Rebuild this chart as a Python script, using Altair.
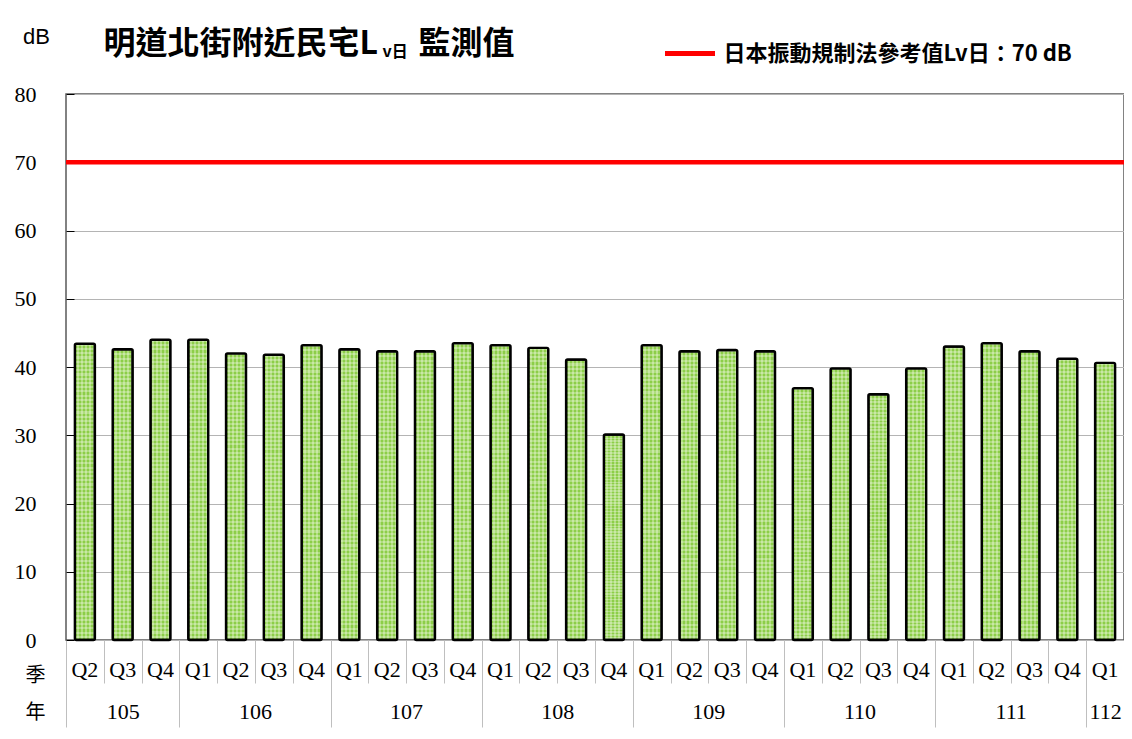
import json
import altair as alt
import pandas as pd

# ---------------- data ----------------
years = ["105", "106", "107", "108", "109", "110", "111", "112"]
quarters = [
    ["Q2", "Q3", "Q4"],
    ["Q1", "Q2", "Q3", "Q4"],
    ["Q1", "Q2", "Q3", "Q4"],
    ["Q1", "Q2", "Q3", "Q4"],
    ["Q1", "Q2", "Q3", "Q4"],
    ["Q1", "Q2", "Q3", "Q4"],
    ["Q1", "Q2", "Q3", "Q4"],
    ["Q1"],
]
values = [43.4, 42.6, 44.0,
          44.0, 42.0, 41.8, 43.2,
          42.6, 42.3, 42.3, 43.5,
          43.2, 42.8, 41.1, 30.1,
          43.2, 42.3, 42.5, 42.3,
          36.9, 39.8, 36.0, 39.8,
          43.0, 43.5, 42.3, 41.2,
          40.6]
y_ticks = [0, 10, 20, 30, 40, 50, 60, 70, 80]
limit_value = 70
limit_label = "日本振動規制法參考值Lv日：70 dB"
title_main = "明道北街附近民宅L"
title_sub = "v日"
title_tail = "監測值"
y_unit = "dB"
row_quarter = "季"
row_year = "年"

# ---------------- tables built from the lists ----------------
keys = [f"{y}-{q}" for y, qs in zip(years, quarters) for q in qs]
df = pd.DataFrame({"key": keys, "value": values})
n = len(keys)
bounds = [0]
for qs in quarters:
    bounds.append(bounds[-1] + len(qs))
centers = [(a + b) / 2 for a, b in zip(bounds[:-1], bounds[1:])]
qsep_df = pd.DataFrame({"b": list(range(n + 1))})
ysep_df = pd.DataFrame({"b": bounds})
ycen_df = pd.DataFrame({"c": centers, "year": years})
lim_df = pd.DataFrame({"label": [limit_label], "value": [limit_value]})
ytick_df = pd.DataFrame({"value": y_ticks})

W, H = 1058, 546
SERIF = "Liberation Serif"
CJK = "Noto Sans CJK TC"
SEP = "#BFBFBF"

# pattern-like fills (style only)
def stripes(n_per, c1, c2, horizontal):
    stops = []
    for i in range(n_per):
        a = i / n_per
        m = (i + 0.5) / n_per
        b = (i + 1) / n_per
        stops += [{"offset": a, "color": c1}, {"offset": m, "color": c1},
                  {"offset": m, "color": c2}, {"offset": b, "color": c2}]
    g = {"gradient": "linear", "stops": stops}
    if horizontal:
        g.update({"x1": 0, "x2": 1, "y1": 0, "y2": 0})
    else:
        g.update({"x1": 0, "x2": 0, "y1": 0, "y2": 1})
    return g

fill_x = stripes(5, "#8CCE48", "#B2DE80", True)
fill_y = stripes(70, "rgba(255,255,255,0.3)", "rgba(255,255,255,0)", False)

band = alt.Scale(domain=keys, paddingInner=0.47, paddingOuter=0.235)
lin = alt.Scale(domain=[0, n], nice=False, zero=False)

def title_axis(**kw):
    base = dict(orient="bottom", labels=False, ticks=False, domain=False, grid=False,
                titleAngle=0, titleColor="black", titleBaseline="middle",
                titleAlign="left")
    base.update(kw)
    return alt.Axis(**base)

y_enc = alt.Y(
    "value:Q",
    scale=alt.Scale(domain=[0, 80], nice=False),
    axis=alt.Axis(values=y_ticks, grid=True, gridColor="#B4B4B4", gridWidth=1,
                  domain=False, ticks=False, labelFont=SERIF, labelFontSize=22,
                  labelColor="black", labelPadding=30,
                  title=y_unit, titleFont="Liberation Sans", titleFontSize=22,
                  titleFontWeight="normal", titleColor="black", titleAngle=0,
                  titleAlign="center", titleBaseline="middle", titleX=-30, titleY=-58),
)

bars_a = alt.Chart(df).mark_bar(fill=fill_x).encode(
    x=alt.X("key:N", scale=band,
            axis=alt.Axis(orient="bottom", labelExpr="split(datum.value, '-')[1]",
                          labelAngle=0, labelFont=SERIF, labelFontSize=22,
                          labelColor="black", labelPadding=19, ticks=False,
                          domain=False, grid=False,
                          title=row_quarter, titleFont=CJK, titleFontSize=20,
                          titleFontWeight="normal", titleColor="black",
                          titleAngle=0, titleAlign="center", titleBaseline="middle",
                          titleX=-31, titleY=35)),
    y=y_enc,
)

bars_b = alt.Chart(df).mark_bar(fill=fill_y, stroke="black", strokeWidth=2.4,
                                cornerRadius=1.5).encode(
    x=alt.X("key:N", scale=band, axis=None),
    y=alt.Y("value:Q", axis=None),
)

rule = alt.Chart(lim_df).mark_rule(strokeWidth=4.5).encode(
    y=alt.Y("value:Q", axis=None),
    color=alt.Color("label:N",
                    scale=alt.Scale(domain=[limit_label], range=["#FF0000"]),
                    legend=alt.Legend(title=None, orient="none", legendX=596.5,
                                      legendY=-68, padding=0, symbolType="stroke",
                                      symbolSize=2500, symbolStrokeWidth=5,
                                      labelFont=CJK, labelFontSize=22,
                                      labelFontWeight="bold", labelColor="black",
                                      labelOffset=6, labelLimit=0)),
)

# inside tick marks on the value axis (Excel style)
inner_ticks = alt.Chart(ytick_df).mark_point(opacity=0).encode(
    y=alt.Y("value:Q",
            axis=alt.Axis(orient="right", offset=-W, values=y_ticks, labels=False,
                          ticks=True, tickSize=8, tickColor="black", tickWidth=1,
                          domain=False, grid=False, title=None)),
)

qsep = alt.Chart(qsep_df).mark_point(opacity=0).encode(
    x=alt.X("b:Q", scale=lin,
            axis=title_axis(values=list(range(n + 1)), ticks=True, tickSize=43,
                            tickColor=SEP, tickWidth=1,
                            title=title_main, titleFont=CJK, titleFontSize=32,
                            titleFontWeight="bold", titleX=37, titleY=-597)),
)

ysep = alt.Chart(ysep_df).mark_point(opacity=0).encode(
    x=alt.X("b:Q", scale=lin,
            axis=title_axis(values=bounds, ticks=True, tickSize=87,
                            tickColor=SEP, tickWidth=1,
                            title=title_sub, titleFont=CJK, titleFontSize=16,
                            titleFontWeight="bold", titleX=316, titleY=-589)),
)

label_expr = f"{json.dumps(years)}[indexof({json.dumps(centers)}, datum.value)]"
ylab = alt.Chart(ycen_df).mark_point(opacity=0).encode(
    x=alt.X("c:Q", scale=lin,
            axis=alt.Axis(orient="bottom", values=centers, labelExpr=label_expr,
                          labelFont=SERIF, labelFontSize=22, labelColor="black",
                          labelPadding=61, labelFlush=False, labelOverlap=False,
                          ticks=False, domain=False, grid=False,
                          title=row_year, titleFont=CJK, titleFontSize=20,
                          titleFontWeight="normal", titleColor="black",
                          titleAngle=0, titleAlign="center", titleBaseline="middle",
                          titleX=-31, titleY=72)),
)

tail = alt.Chart(ycen_df).mark_point(opacity=0).encode(
    x=alt.X("c:Q", scale=lin,
            axis=title_axis(values=[0], title=title_tail, titleFont=CJK,
                            titleFontSize=32, titleFontWeight="bold",
                            titleX=352, titleY=-597)),
)

chart = (
    alt.layer(bars_a, bars_b, rule, inner_ticks, qsep, ysep, ylab, tail)
    .resolve_scale(x="independent")
    .resolve_axis(y="independent")
    .properties(width=W, height=H,
                padding={"left": 58, "top": 86, "right": 0, "bottom": 91},
                autosize=alt.AutoSizeParams(type="none"))
    .configure_view(stroke="#595959", strokeWidth=1.5)
)

chart.save("out.html", embed_options={"renderer": "svg", "actions": False})
